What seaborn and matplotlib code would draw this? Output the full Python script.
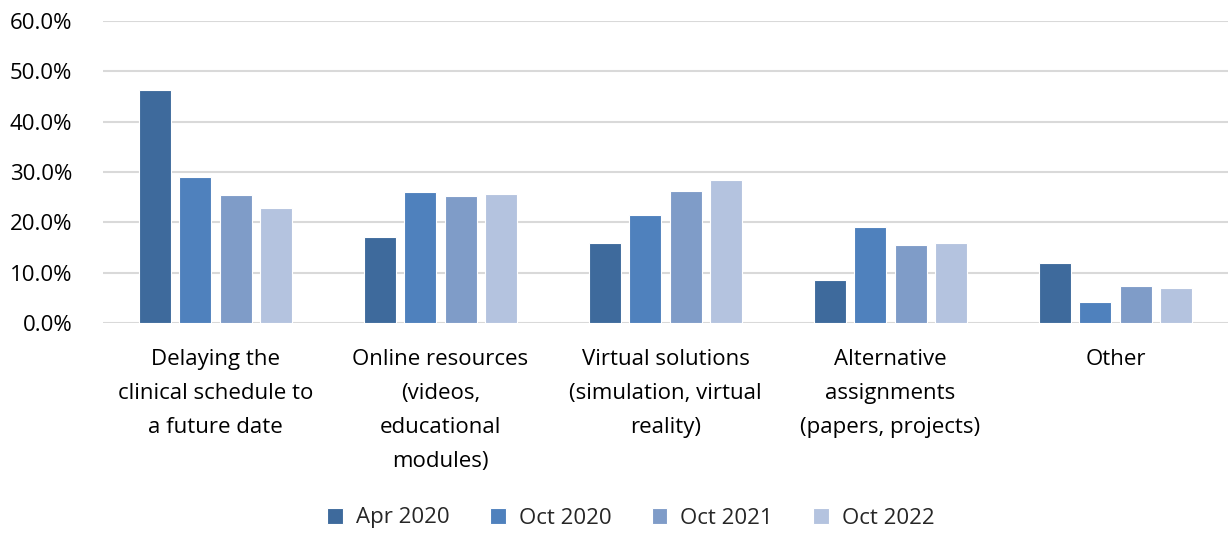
import matplotlib
matplotlib.use("Agg")
import matplotlib.pyplot as plt
import seaborn as sns
import pandas as pd
from matplotlib.ticker import FuncFormatter

categories = [
    "Delaying the\nclinical schedule to\na future date",
    "Online resources\n(videos,\neducational\nmodules)",
    "Virtual solutions\n(simulation, virtual\nreality)",
    "Alternative\nassignments\n(papers, projects)",
    "Other",
]
series_names = ["Apr 2020", "Oct 2020", "Oct 2021", "Oct 2022"]
apr_2020 = [46.3, 17.1, 15.8, 8.5, 12.0]
oct_2020 = [29.1, 26.0, 21.4, 19.1, 4.2]
oct_2021 = [25.4, 25.2, 26.2, 15.4, 7.4]
oct_2022 = [22.8, 25.6, 28.4, 15.8, 6.9]
colors = ["#3E6A9C", "#4F81BD", "#7F9CC8", "#B4C3DF"]
y_ticks = [0, 10, 20, 30, 40, 50, 60]

rows = []
for name, vals in zip(series_names, [apr_2020, oct_2020, oct_2021, oct_2022]):
    for c, v in zip(categories, vals):
        rows.append({"category": c, "period": name, "value": v})
df = pd.DataFrame(rows)

sns.set_theme(style="white")
plt.rcParams["font.family"] = ["Open Sans", "DejaVu Sans"]

fig = plt.figure(figsize=(12.31, 5.33), dpi=100)
ax = fig.add_axes([103 / 1231, 1 - 323 / 533, 1125 / 1231, 302 / 533])

sns.barplot(data=df, x="category", y="value", hue="period", order=categories,
            hue_order=series_names, palette=colors, saturation=1, width=0.72, gap=0.21,
            edgecolor="white", linewidth=0.8, ax=ax, legend=True, zorder=3)

ax.set_ylim(0, 60)
ax.set_yticks(y_ticks)
ax.yaxis.set_major_formatter(FuncFormatter(lambda v, p: f"{v:.1f}%"))
ax.grid(axis="y", color="#D9D9D9", linewidth=1.5, zorder=0)
ax.set_axisbelow(True)
for s in ax.spines.values():
    s.set_visible(False)
ax.tick_params(axis="both", length=0, labelsize=16, colors="#000000")
ax.tick_params(axis="y", pad=22)
ax.tick_params(axis="x", pad=19)
for lbl in ax.get_xticklabels():
    lbl.set_linespacing(1.8)
    lbl.set_verticalalignment("top")
ax.set_xlabel("")
ax.set_ylabel("")

handles, labels = ax.get_legend_handles_labels()
ax.legend_.remove()
fig.legend(handles, labels, loc="center", bbox_to_anchor=(631 / 1231, 1 - 518 / 533),
           ncol=4, frameon=False, fontsize=16, handlelength=0.7, handleheight=0.7,
           columnspacing=1.8, handletextpad=0.6)

fig.savefig("out.png", dpi=100)
